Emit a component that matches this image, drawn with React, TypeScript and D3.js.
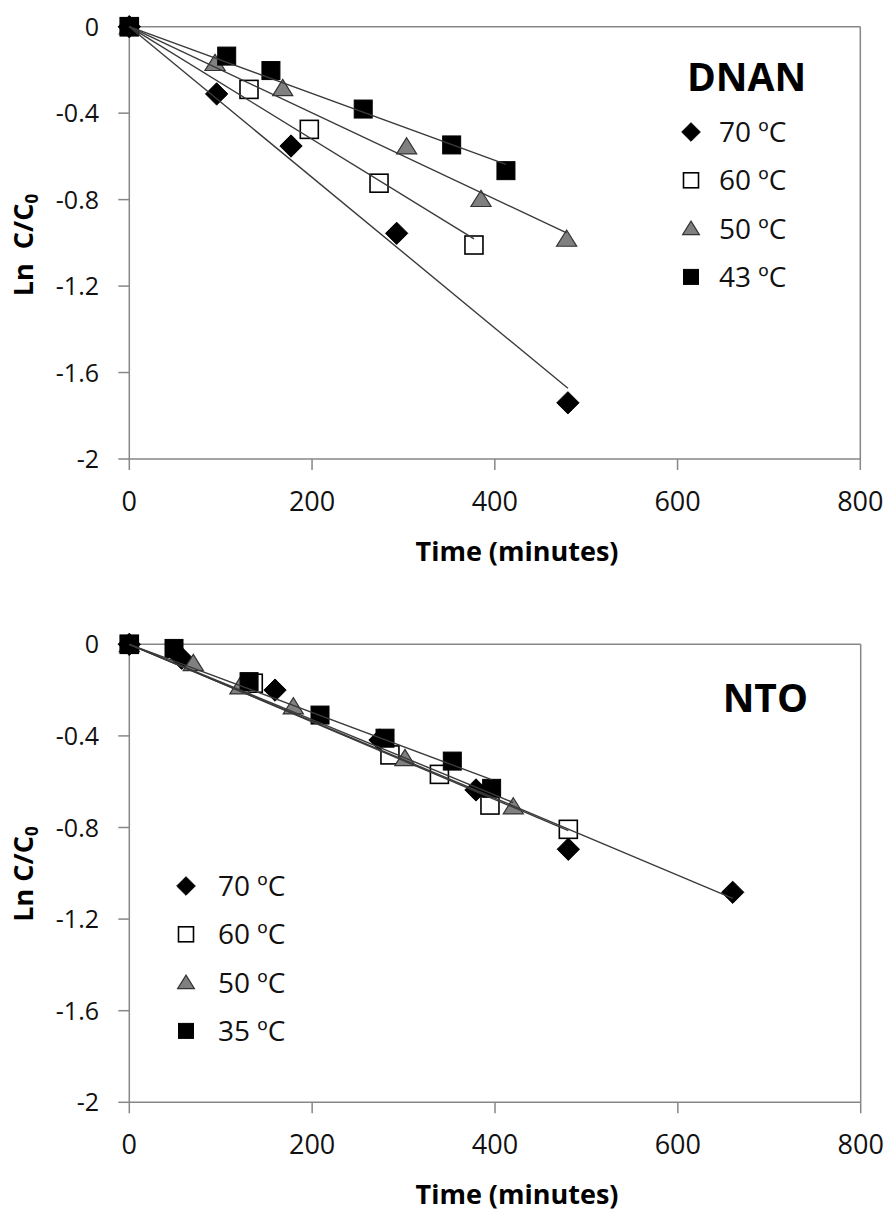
import React from "react";
import * as d3 from "d3";

const xTicks = [0, 200, 400, 600, 800];
const yTicks = [0, -0.4, -0.8, -1.2, -1.6, -2];

// DNAN
const dnanLabels = ["70 ºC", "60 ºC", "50 ºC", "43 ºC"];
const dnan70T = [0, 95.6, 177, 292.6, 480];
const dnan70V = [0, -0.311, -0.552, -0.956, -1.74];
const dnan60T = [0, 131, 197, 273.3, 377.2];
const dnan60V = [0, -0.29, -0.475, -0.724, -1.01];
const dnan50T = [0, 93.8, 167.9, 303.5, 384.9, 478.6];
const dnan50V = [0, -0.169, -0.285, -0.555, -0.798, -0.982];
const dnan43T = [0, 106.6, 155, 256, 352.8, 412.2];
const dnan43V = [0, -0.136, -0.203, -0.381, -0.547, -0.666];

// NTO
const ntoLabels = ["70 ºC", "60 ºC", "50 ºC", "35 ºC"];
const nto70T = [0, 57.3, 159.4, 274.2, 379.2, 480.2, 660];
const nto70V = [0, -0.061, -0.2, -0.418, -0.636, -0.895, -1.083];
const nto60T = [0, 135.6, 285.1, 339.2, 394.5, 480.2];
const nto60V = [0, -0.17, -0.483, -0.568, -0.702, -0.808];
const nto50T = [0, 70, 121, 179.4, 301.5, 420];
const nto50V = [0, -0.083, -0.185, -0.272, -0.498, -0.709];
const nto35T = [0, 48.9, 131, 208.6, 279.7, 353.3, 396.3];
const nto35V = [0, -0.018, -0.163, -0.309, -0.41, -0.51, -0.629];

const markerKinds = ["diamond", "open", "triangle", "square"];

type Series = { t: number[]; v: number[] };

function marker(kind: string, cx: number, cy: number, s: number, key: string) {
  if (kind === "diamond") {
    const r = s * 0.62;
    return (
      <path key={key} d={`M${cx},${cy - r}L${cx + r},${cy}L${cx},${cy + r}L${cx - r},${cy}Z`} fill="#000" stroke="#000" strokeWidth={1} />
    );
  }
  if (kind === "open") {
    const h = s * 0.5;
    return <rect key={key} x={cx - h} y={cy - h} width={2 * h} height={2 * h} fill="#fff" stroke="#000" strokeWidth={1.6} />;
  }
  if (kind === "square") {
    const h = s * 0.5;
    return <rect key={key} x={cx - h} y={cy - h} width={2 * h} height={2 * h} fill="#000" stroke="#000" strokeWidth={1} />;
  }
  const w = s * 0.56;
  const hh = s * 0.9;
  return (
    <path key={key} d={`M${cx},${cy - hh * 0.55}L${cx + w},${cy + hh * 0.45}L${cx - w},${cy + hh * 0.45}Z`} fill="#808080" stroke="#333" strokeWidth={1.2} />
  );
}

function Chart(props: {
  x0: number; x1: number; y0: number; y1: number;
  series: Series[]; labels: string[]; title: string;
  titleX: number; titleY: number; titleAnchor: string;
  legX: number; legTextX: number; legY: number; legStep: number;
  yTitle: string; yTitleCenter: number;
}) {
  const { x0, x1, y0, y1, series, labels } = props;
  const x = d3.scaleLinear().domain([0, 800]).range([x0, x1]);
  const y = d3.scaleLinear().domain([-2, 0]).range([y1, y0]);
  const axisColor = "#878787";
  const line = d3.line<[number, number]>().x((d) => x(d[0])).y((d) => y(d[1]));
  return (
    <g>
      {/* plot box */}
      <line x1={x0} x2={x1} y1={y0} y2={y0} stroke={axisColor} strokeWidth={1.5} />
      <line x1={x1} x2={x1} y1={y0} y2={y1} stroke={axisColor} strokeWidth={1.5} />
      <line x1={x0} x2={x0} y1={y0} y2={y1} stroke={axisColor} strokeWidth={1.5} />
      <line x1={x0} x2={x1} y1={y1} y2={y1} stroke={axisColor} strokeWidth={1.5} />
      {yTicks.map((t) => (
        <g key={"y" + t}>
          <line x1={x0 - 11} x2={x0} y1={y(t)} y2={y(t)} stroke={axisColor} strokeWidth={1.5} />
          <text x={99} y={y(t) + 9} textAnchor="end" fontSize={25} fontFamily="Open Sans" fill="#111">
            {String(t)}
          </text>
        </g>
      ))}
      {xTicks.map((t) => (
        <g key={"x" + t}>
          <line x1={x(t)} x2={x(t)} y1={y1} y2={y1 + 11} stroke={axisColor} strokeWidth={1.5} />
          <text x={x(t)} y={y1 + 52} textAnchor="middle" fontSize={27} fontFamily="Open Sans" fill="#111">
            {String(t)}
          </text>
        </g>
      ))}
      <text x={517} y={y1 + 102} textAnchor="middle" fontSize={27} fontWeight="bold" fontFamily="Open Sans" fill="#000">
        Time (minutes)
      </text>
      <text
        transform={`translate(33,${props.yTitleCenter}) rotate(-90)`}
        textAnchor="middle"
        fontSize={27}
        fontWeight="bold"
        fontFamily="Open Sans"
        style={{ whiteSpace: "pre" }}
      >
        {props.yTitle}
        <tspan fontSize={17} dy={5}>0</tspan>
      </text>
      {/* markers */}
      {series.map((s, i) =>
        s.t.map((t, j) => marker(markerKinds[i], x(t), y(s.v[j]), 18, `m${i}-${j}`))
      )}
      {/* trendlines through origin */}
      {series.map((s, i) => {
        const sxy = d3.sum(s.t.map((t, j) => t * s.v[j]));
        const sxx = d3.sum(s.t.map((t) => t * t));
        const k = sxy / sxx;
        const tMax = d3.max(s.t) as number;
        return (
          <path key={"l" + i} d={line([[0, 0], [tMax, k * tMax]]) as string} fill="none" stroke="#3a3a3a" strokeWidth={1.4} />
        );
      })}
      {/* legend */}
      <text x={props.titleX} y={props.titleY} textAnchor={props.titleAnchor as any} fontSize={39} fontWeight="bold" fontFamily="Open Sans">
        {props.title}
      </text>
      {labels.map((l, i) => (
        <g key={"lg" + i}>
          {marker(markerKinds[i], props.legX, props.legY + i * props.legStep, 15, "lm" + i)}
          <text x={props.legTextX} y={props.legY + i * props.legStep + 10} fontSize={28} fontFamily="Open Sans" fill="#111">
            {l}
          </text>
        </g>
      ))}
    </g>
  );
}

export default function App() {
  const dnan: Series[] = [
    { t: dnan70T, v: dnan70V },
    { t: dnan60T, v: dnan60V },
    { t: dnan50T, v: dnan50V },
    { t: dnan43T, v: dnan43V },
  ];
  const nto: Series[] = [
    { t: nto70T, v: nto70V },
    { t: nto60T, v: nto60V },
    { t: nto50T, v: nto50V },
    { t: nto35T, v: nto35V },
  ];
  return (
    <svg width={886} height={1212} style={{ position: "absolute", left: 0, top: 0, background: "#fff" }}>
      <rect x={0} y={0} width={886} height={1212} fill="#fff" />
      <Chart
        x0={129.3} x1={860.3} y0={26.7} y1={459}
        series={dnan} labels={dnanLabels} title="DNAN"
        titleX={687} titleY={91} titleAnchor="start"
        legX={691} legTextX={719} legY={132} legStep={48.3}
        yTitle={"Ln  C/C"} yTitleCenter={245}
      />
      <Chart
        x0={129.3} x1={860.7} y0={644.3} y1={1102.3}
        series={nto} labels={ntoLabels} title="NTO"
        titleX={808} titleY={712} titleAnchor="end"
        legX={186} legTextX={218} legY={886} legStep={48.3}
        yTitle={"Ln C/C"} yTitleCenter={874}
      />
    </svg>
  );
}
